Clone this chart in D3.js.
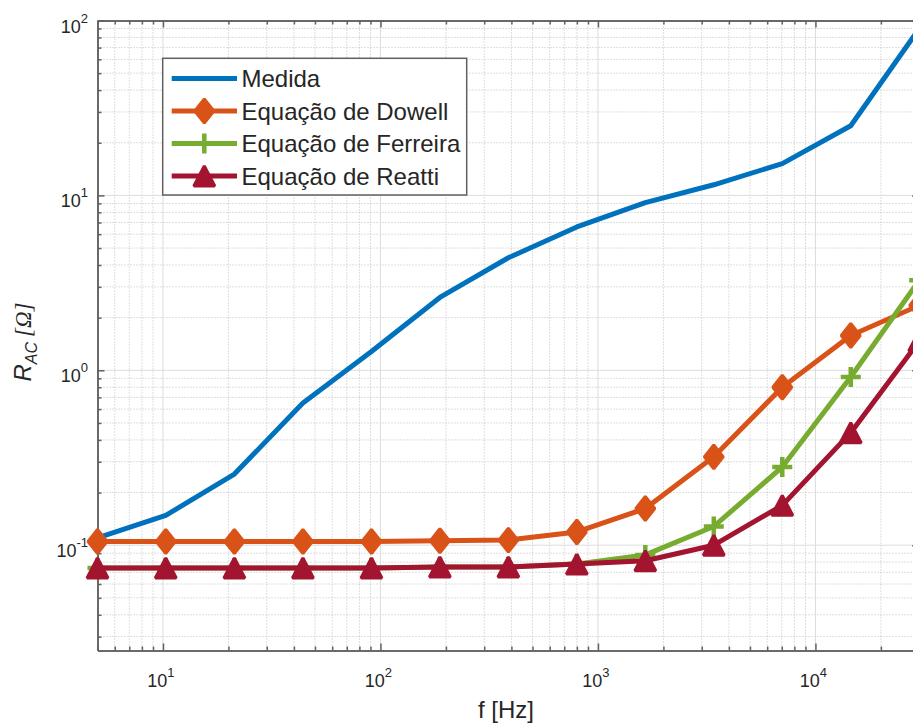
<!DOCTYPE html>
<html>
<head>
<meta charset="utf-8">
<style>
  body { margin: 0; background: #fff; }
  text { font-family: "Liberation Sans", Arial, sans-serif; fill: #262626; }
  .grid-major line { stroke: #dcdcdc; stroke-width: 1; }
  .grid-minor line { stroke: #bdbdbd; stroke-width: 1; stroke-dasharray: 1,2; }
  .axis path, .axis line { stroke: #606060; stroke-width: 1.5; }
</style>
<script src="https://d3js.org/d3.v7.min.js"></script>
</head>
<body>
<script>
// frequencies (Hz) and resistance values (ohm)
const freq = [5, 10.3, 21.3, 44, 90.9, 187.6, 387.3, 799.7, 1651, 3409, 7039, 14534, 30000];
const medida   = [0.11, 0.148, 0.255, 0.65, 1.28, 2.61, 4.4, 6.6, 9.1, 11.5, 15.2, 25, 90];
const dowell   = [0.105, 0.105, 0.105, 0.105, 0.105, 0.106, 0.107, 0.119, 0.162, 0.32, 0.80, 1.58, 2.35];
const ferreira = [0.074, 0.074, 0.074, 0.074, 0.074, 0.075, 0.075, 0.078, 0.088, 0.128, 0.28, 0.916, 3.27];
const reatti   = [0.074, 0.074, 0.074, 0.074, 0.074, 0.075, 0.075, 0.078, 0.0815, 0.10, 0.169, 0.44, 1.47];
const seriesNames = ["Medida", "Equação de Dowell", "Equação de Ferreira", "Equação de Reatti"];
const xMajor = [10, 100, 1000, 10000];
const yMajor = [0.1, 1, 10, 100];
const yTickLabels = ["-1", "0", "1", "2"];
const xTickLabels = ["1", "2", "3", "4"];

const width = 913, height = 725;
const pLeft = 97.5, pTop = 20.5, pRight = 919.2, pBottom = 650.5;

const svg = d3.select("body").append("svg")
    .attr("width", width).attr("height", height);

const x = d3.scaleLog().domain([5, 30000]).range([pLeft, pRight]);
const y = d3.scaleLog().domain([0.025, 100]).range([pBottom, pTop]);

const isPow10 = v => Math.abs(Math.log10(v) - Math.round(Math.log10(v))) < 1e-9;
const xMinor = x.ticks().filter(v => !isPow10(v));
const yMinor = y.ticks().filter(v => !isPow10(v));

// grid
const gn = svg.append("g").attr("class", "grid-minor");
gn.selectAll("line.v").data(xMinor).enter().append("line")
    .attr("x1", d => x(d)).attr("x2", d => x(d)).attr("y1", pTop).attr("y2", pBottom);
gn.selectAll("line.h").data(yMinor).enter().append("line")
    .attr("x1", pLeft).attr("x2", pRight).attr("y1", d => y(d)).attr("y2", d => y(d));
const gm = svg.append("g").attr("class", "grid-major");
gm.selectAll("line.v").data(xMajor).enter().append("line")
    .attr("x1", d => x(d)).attr("x2", d => x(d)).attr("y1", pTop).attr("y2", pBottom);
gm.selectAll("line.h").data(yMajor).enter().append("line")
    .attr("x1", pLeft).attr("x2", pRight).attr("y1", d => y(d)).attr("y2", d => y(d));

// axes (ticks pointing inward, on all sides)
function addAxis(axisFn, scale, vals, size, tr) {
    svg.append("g").attr("class", "axis").attr("transform", tr)
        .call(axisFn(scale).tickValues(vals).tickSize(size).tickSizeOuter(0).tickFormat(""));
}
addAxis(d3.axisBottom, x, xMinor, -4, `translate(0,${pBottom})`);
addAxis(d3.axisBottom, x, xMajor, -7, `translate(0,${pBottom})`);
addAxis(d3.axisTop, x, xMinor, -4, `translate(0,${pTop})`);
addAxis(d3.axisTop, x, xMajor, -7, `translate(0,${pTop})`);
addAxis(d3.axisLeft, y, yMinor, -4, `translate(${pLeft},0)`);
addAxis(d3.axisLeft, y, yMajor, -7, `translate(${pLeft},0)`);
addAxis(d3.axisRight, y, yMinor, -4, `translate(${pRight},0)`);
addAxis(d3.axisRight, y, yMajor, -7, `translate(${pRight},0)`);

// tick labels with superscript exponents
xMajor.forEach((v, i) => {
    const t = svg.append("text").attr("x", x(v) - 2).attr("y", 687)
        .attr("text-anchor", "middle").style("font-size", "18px");
    t.append("tspan").text("10");
    t.append("tspan").attr("dy", -10).style("font-size", "13px").text(xTickLabels[i]);
});
yMajor.forEach((v, i) => {
    const t = svg.append("text").attr("x", 88).attr("y", y(v) + 12)
        .attr("text-anchor", "end").style("font-size", "18px");
    t.append("tspan").text("10");
    t.append("tspan").attr("dy", -10).style("font-size", "13px").text(yTickLabels[i]);
});

// axis labels
svg.append("text").attr("x", 506).attr("y", 718).attr("text-anchor", "middle")
    .style("font-size", "24px").text("f [Hz]");
const yl = svg.append("text").attr("transform", "translate(31,342) rotate(-90)")
    .attr("text-anchor", "middle").style("font-size", "24px").style("font-style", "italic");
yl.append("tspan").text("R");
yl.append("tspan").attr("dy", 6).style("font-size", "16px").text("AC");
yl.append("tspan").attr("dy", -6).attr("dx", 5)
    .style("font-family", "'Liberation Serif', serif").style("font-size", "23px").text("[Ω]");

// series
const colors = ["#0072BD", "#D95319", "#77AC30", "#A2142F"];
const markers = [null, "diamond", "plus", "triangle"];
const allSeries = [medida, dowell, ferreira, reatti];

function markerPath(type) {
    if (type === "diamond") return "M0,-12L9.5,0L0,12L-9.5,0Z";
    if (type === "triangle") return "M0,-10L10.5,10L-10.5,10Z";
    if (type === "plus") return "M-10,0L10,0M0,-10L0,10";
    return null;
}
function drawMarker(g, type, color, cx, cy) {
    const p = g.append("path").attr("d", markerPath(type))
        .attr("transform", `translate(${cx},${cy})`)
        .attr("stroke", color).attr("stroke-linejoin", "bevel");
    if (type === "plus") p.attr("fill", "none").attr("stroke-width", 4.5);
    else p.attr("fill", color).attr("stroke-width", 3);
}

const line = d3.line().x(d => x(d[0])).y(d => y(d[1]));
allSeries.forEach((vals, k) => {
    const pts = freq.map((f, i) => [f, vals[i]]);
    const g = svg.append("g");
    g.append("path").datum(pts).attr("d", line)
        .attr("fill", "none").attr("stroke", colors[k])
        .attr("stroke-width", 5).attr("stroke-linejoin", "round");
    if (markers[k]) pts.forEach(d => drawMarker(g, markers[k], colors[k], x(d[0]), y(d[1])));
});

// legend
const lg = svg.append("g");
lg.append("rect").attr("x", 162.7).attr("y", 58.3).attr("width", 304).attr("height", 136.7)
    .attr("fill", "#fff").attr("stroke", "#606060").attr("stroke-width", 1.5);
seriesNames.forEach((name, k) => {
    const cy = 78.5 + k * 32.5;
    lg.append("line").attr("x1", 171.7).attr("x2", 237).attr("y1", cy).attr("y2", cy)
        .attr("stroke", colors[k]).attr("stroke-width", 5);
    if (markers[k]) drawMarker(lg, markers[k], colors[k], 204.3, cy);
    lg.append("text").attr("x", 241.5).attr("y", cy + 8.5).style("font-size", "24px").text(name);
});
</script>
</body>
</html>
